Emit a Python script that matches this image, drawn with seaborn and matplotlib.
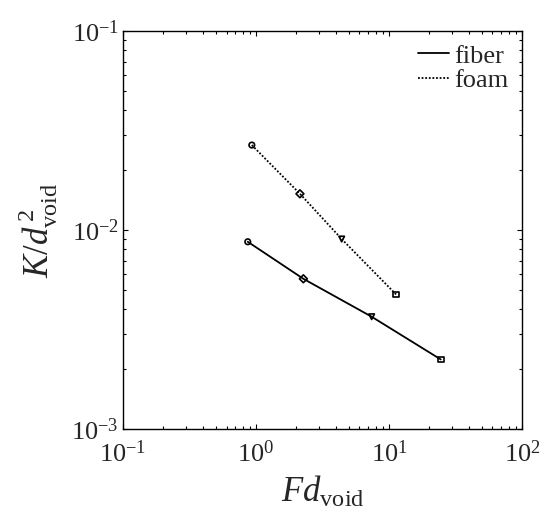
import numpy as np
import pandas as pd
import matplotlib
matplotlib.use('Agg')
import matplotlib.pyplot as plt
import seaborn as sns
from matplotlib.ticker import LogLocator, NullFormatter

# data
fiber_fd = [0.867, 2.27, 7.41, 24.5]
fiber_k = [0.00873, 0.00569, 0.00367, 0.00224]
foam_fd = [0.93, 2.14, 4.41, 11.3]
foam_k = [0.0267, 0.0152, 0.00901, 0.00475]
point_marks = ['o', 'D', 'v', 's']

sns.set_style('ticks')
plt.rcParams['font.family'] = ['Liberation Serif', 'DejaVu Serif']
plt.rcParams['mathtext.fontset'] = 'custom'
plt.rcParams['mathtext.rm'] = 'Liberation Serif'
plt.rcParams['mathtext.it'] = 'Liberation Serif:italic'
plt.rcParams['mathtext.default'] = 'regular'

df = pd.concat([
    pd.DataFrame({'Fd': fiber_fd, 'K': fiber_k, 'mat': 'fiber', 'pt': range(4)}),
    pd.DataFrame({'Fd': foam_fd, 'K': foam_k, 'mat': 'foam', 'pt': range(4)}),
])

fig = plt.figure(figsize=(5.42, 5.14), dpi=100)
ax = fig.add_axes([0.227, 0.165, 0.736, 0.775])

sns.lineplot(data=df, x='Fd', y='K', style='mat', dashes={'fiber': '', 'foam': (1, 1)},
             color='black', linewidth=1.3, ax=ax, sort=False, estimator=None)
sns.scatterplot(data=df, x='Fd', y='K', style='pt', markers=point_marks,
                color='black', s=16, linewidth=1.2, legend=False, ax=ax)
for coll in ax.collections:
    coll.set_facecolor('none')
    coll.set_edgecolor('black')

ax.set_xscale('log')
ax.set_yscale('log')
ax.set_xlim(0.1, 100)
ax.set_ylim(1e-3, 1e-1)

for a in (ax.xaxis, ax.yaxis):
    a.set_major_locator(LogLocator(base=10, numticks=10))
    a.set_minor_locator(LogLocator(base=10, subs=np.arange(2, 10), numticks=10))
    a.set_minor_formatter(NullFormatter())
ax.tick_params(which='both', direction='in', top=True, right=True, labelsize=19, width=0.8, color='black')
ax.tick_params(which='major', length=3.5)
ax.tick_params(axis='x', which='major', pad=8)
ax.tick_params(axis='y', which='major', pad=3)
ax.tick_params(which='minor', length=2)
for s in ax.spines.values():
    s.set_linewidth(1.0)
    s.set_color('black')

ax.set_xlabel(r'$\mathit{Fd}_{\mathrm{void}}$', fontsize=25, labelpad=6)
ax.set_ylabel(r'$\mathit{K/d}^{\,2}_{\mathrm{void}}$', fontsize=25, labelpad=8)

leg = ax.legend(loc='upper right', frameon=False, fontsize=19, handlelength=1.2,
                handletextpad=0.2, borderaxespad=0.1, labelspacing=0.05)

fig.savefig('out.png', dpi=100)
